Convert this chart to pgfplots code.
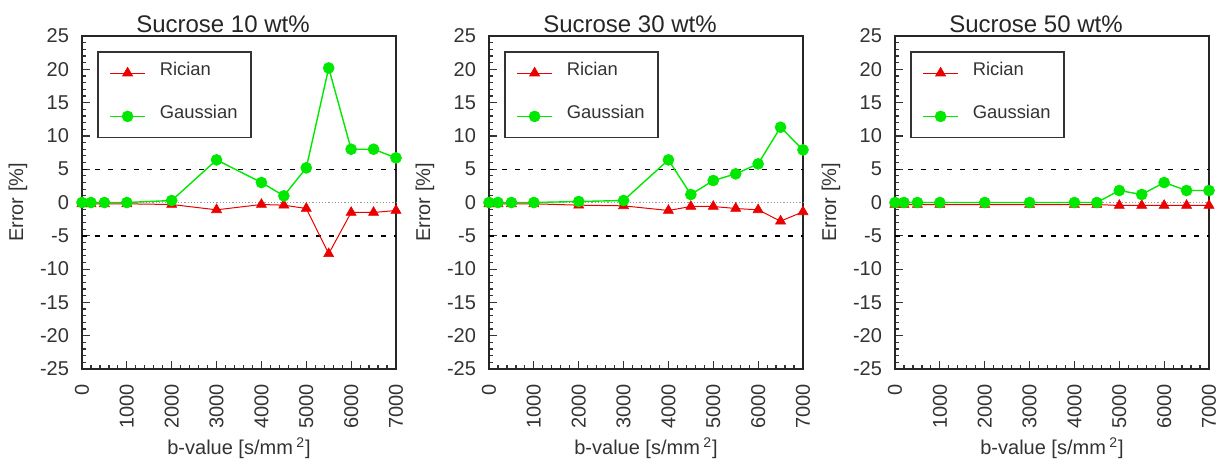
\documentclass[border=0pt]{standalone}
\usepackage{fontspec}
\setmainfont{Liberation Sans}
\usepackage{pgfplots}
\usepackage{pgfplotstable}
\pgfplotsset{compat=1.18}
\definecolor{rred}{RGB}{235,0,0}
\definecolor{ggreen}{RGB}{0,232,0}

\pgfplotstableread{
b     R     G
0    -0.2   0.0
200  -0.2   0.0
500  -0.2   0.0
1000 -0.2   0.0
2000 -0.3   0.3
3000 -1.1   6.4
4000 -0.3   3.0
4500 -0.4   1.0
5000 -0.9   5.2
5500 -7.7  20.2
6000 -1.5   8.0
6500 -1.5   8.0
7000 -1.2   6.7
}\tabA
\pgfplotstableread{
b     R     G
0    -0.2   0.0
200  -0.2   0.0
500  -0.2   0.0
1000 -0.2   0.0
2000 -0.4   0.15
3000 -0.5   0.3
4000 -1.2   6.4
4500 -0.6   1.2
5000 -0.6   3.3
5500 -0.9   4.3
6000 -1.1   5.8
6500 -2.8  11.3
7000 -1.4   7.9
}\tabB
\pgfplotstableread{
b     R     G
0    -0.3   0.0
200  -0.3   0.0
500  -0.3   0.0
1000 -0.3   0.0
2000 -0.3   0.0
3000 -0.3   0.0
4000 -0.3   0.0
4500 -0.3   0.0
5000 -0.45  1.8
5500 -0.45  1.2
6000 -0.45  3.0
6500 -0.45  1.8
7000 -0.45  1.8
}\tabC

\pgfplotsset{
 errpanel/.style={
  scale only axis, width=157pt, height=166.5pt,
  xmin=0, xmax=7000, ymin=-25, ymax=25,
  xtick={0,1000,...,7000}, ytick={-25,-20,...,25},
  minor x tick num=4, minor y tick num=4,
  xtick pos=left, ytick pos=left, tick align=inside,
  major tick length=4pt, minor tick length=2pt,
  every tick/.style={black!80, line width=0.6pt},
  axis line style={black!85, line width=1pt},
  /pgf/number format/assume math mode=true,
  /pgf/number format/1000 sep={},
  ticklabel style={font=\fontsize{10}{12}\selectfont, text=black!80},
  xticklabel style={rotate=90, anchor=east},
  xticklabel shift=4pt, yticklabel shift=3pt,
  title style={at={(axis description cs:0.5,1)}, anchor=base, yshift=-4.3pt, xshift=-8pt, font=\fontsize{12}{14}\selectfont, text=black!85},
  xlabel={b-value [s/mm\,\textsuperscript{2}]},
  ylabel={Error [\%]},
  xlabel style={at={(axis description cs:0.5,-0.258)}, anchor=base, font=\fontsize{10}{12}\selectfont, text=black!80},
  ylabel style={at={(axis description cs:-0.204,0.5)}, anchor=center, font=\fontsize{10}{12}\selectfont, text=black!80},
  clip=false,
  legend cell align=left,
  legend style={at={(axis description cs:0,1)}, anchor=north west, xshift=7.5pt, yshift=-7.5pt,
    draw=black!80, line width=0.9pt, font=\fontsize{9.2}{11}\selectfont, text=black!80,
    inner xsep=3.75pt, inner ysep=2pt, row sep=4.5pt, nodes={inner sep=3pt, text depth=4.5pt},
    /tikz/every odd column/.append style={column sep=4pt}},
  legend image code/.code={\path (0pt,0pt); \draw[mark repeat=2, mark phase=2] plot coordinates {(2pt,0pt)(10.75pt,0pt)(19.5pt,0pt)};},
 },
 rstyle/.style={rred, line width=0.5pt, mark=triangle*, mark size=2.9pt, mark options={solid, fill=rred, draw=rred, line width=0.3pt}},
 gstyle/.style={ggreen, line width=0.7pt, mark=*, mark size=2.75pt, mark options={solid, fill=ggreen, draw=ggreen, line width=0.3pt}},
}

\newcommand{\panel}[3]{%
\begin{axis}[errpanel, at={(#1,48.5pt)}, anchor=south west, title={#2}]
  \addplot[black, line width=0.7pt, dash pattern=on 2.5pt off 4pt, forget plot] coordinates {(0,5) (7000,5)};
  \addplot[black, line width=0.7pt, dash pattern=on 2.5pt off 4pt, forget plot] coordinates {(0,-5) (7000,-5)};
  \addplot[gray!80, line width=0.6pt, densely dotted, forget plot] coordinates {(0,0) (7000,0)};
  \addplot[rstyle] table[x=b, y=R] {#3};
  \addlegendentry{Rician}
  \addplot[gstyle] table[x=b, y=G] {#3};
  \addlegendentry{Gaussian}
\end{axis}}

\begin{document}
\begin{tikzpicture}
\useasboundingbox (0,0) rectangle (610pt,233pt);
\panel{41pt}{Sucrose 10 wt\%}{\tabA}
\panel{244.5pt}{Sucrose 30 wt\%}{\tabB}
\panel{447.5pt}{Sucrose 50 wt\%}{\tabC}
\end{tikzpicture}
\end{document}
